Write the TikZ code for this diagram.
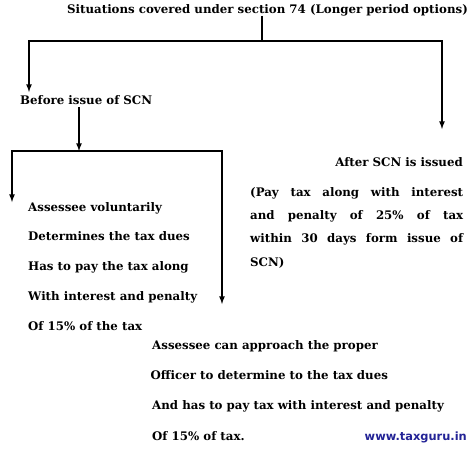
\documentclass[tikz,border=0pt]{standalone}
\usepackage{fontspec}
\setmainfont{DejaVu Serif}
\newfontfamily\webfont{DejaVu Sans}
\usetikzlibrary{arrows,positioning}
\definecolor{webblue}{RGB}{35,35,150}
\tikzstyle{txt}=[inner sep=0pt, anchor=base west, font=\fontsize{11.8}{29.8}\selectfont\bfseries]
\tikzstyle{stack}=[txt, align=left, anchor=north west]
\tikzstyle{para}=[txt, text width=213pt, align=justify, anchor=north west, font=\fontsize{11.8}{23.3}\selectfont\bfseries]

\begin{document}
\begin{tikzpicture}[x=1pt,y=-1pt]
\useasboundingbox[fill=white] (0,0) rectangle (474,450);

\node[txt, anchor=base] (title) at (267.5,13) {Situations covered under section 74 (Longer period options)};
\node[txt] (before) at (20,104) {Before issue of SCN};
\node[txt, anchor=base east] (after) at (463,166) {After SCN is issued};
\node[para] (afterp) at (250,187) {(Pay tax along with interest\linebreak and penalty of 25\% of tax\linebreak within 30 days form issue of\linebreak SCN)};
\node[stack] (self) at (28,202) {Assessee voluntarily\\Determines the tax dues\\Has to pay the tax along\\With interest and penalty\\Of 15\% of the tax};
\node[stack, font=\fontsize{11.8}{30.3}\selectfont\bfseries] (officer) at (152,340) {Assessee can approach the proper\\\hspace*{-1.5pt}Officer to determine to the tax dues\\And has to pay tax with interest and penalty\\Of 15\% of tax.};
\node[anchor=base east, inner sep=0pt, text=webblue, font=\fontsize{11.4}{12}\webfont\bfseries] (web) at (467,440) {www.taxguru.in};

\coordinate (top) at (262,41);
\coordinate (topl) at (29,41);
\coordinate (topr) at (442,41);
\coordinate (sub) at (79,151);
\coordinate (subl) at (12,151);
\coordinate (subr) at (222,151);

\draw[ultra thick](title.south -| top) -- (top);
\draw[->,>=latex,ultra thick](topr) -- (topl) -- (29,92);
\draw[->,>=latex,ultra thick](top) -- (topr) -- (442,129);
\draw[->,>=latex,ultra thick](before.south -| sub) ++(0,3) -- (sub);
\draw[->,>=latex,ultra thick](subr) -- (subl) -- (12,202);
\draw[->,>=latex,ultra thick](sub) -- (subr) -- (222,304);

\end{tikzpicture}
\end{document}
